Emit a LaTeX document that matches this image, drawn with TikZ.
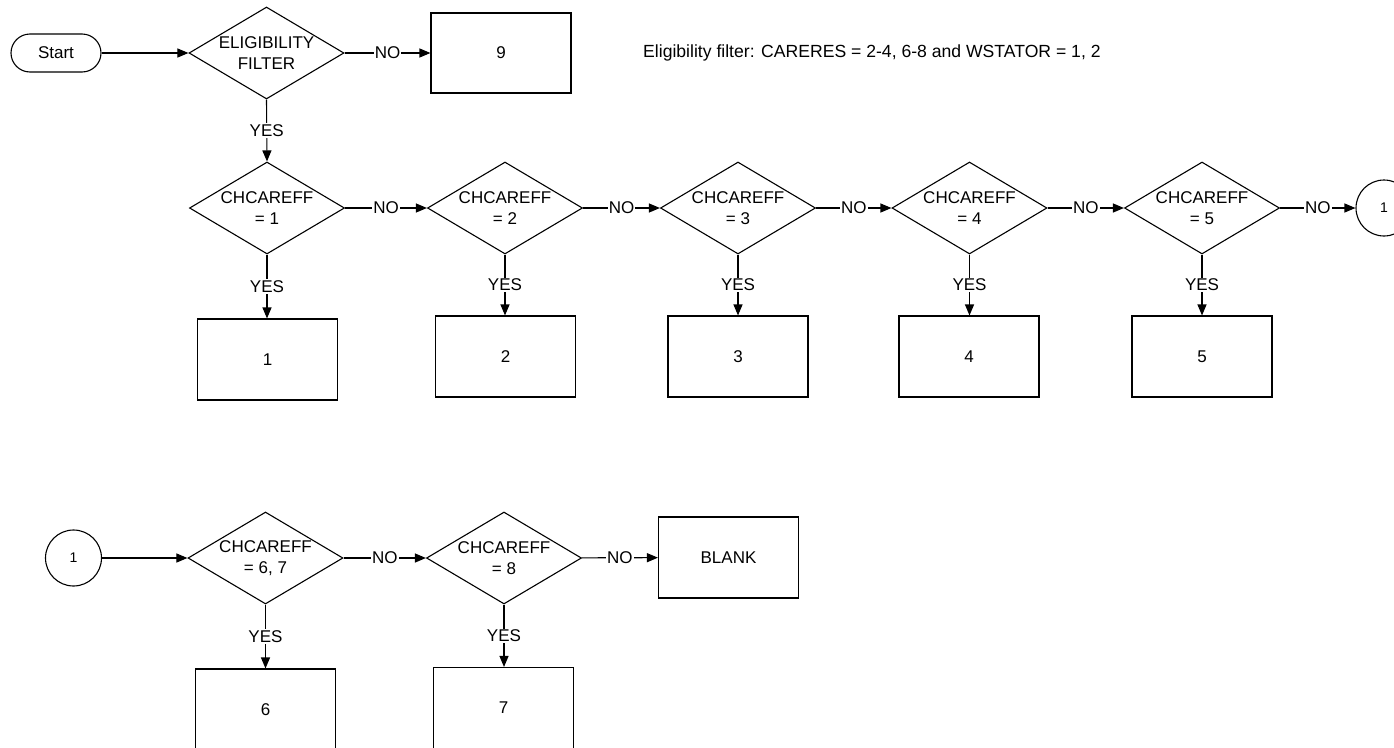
\documentclass[tikz,border=0pt]{standalone}
\usepackage{fontspec}
\setmainfont{Liberation Sans}
\usetikzlibrary{shapes.geometric,arrows.meta}
\tikzset{
  every node/.style={font=\fontsize{17}{21}\selectfont},
  base/.style={draw, line width=1.1pt, inner sep=0pt},
  term/.style={base, rectangle, rounded corners=19pt, minimum width=90pt, minimum height=38pt},
  dia/.style={base, diamond, minimum width=155pt, minimum height=92pt},
  dtxt/.style={align=center, inner sep=0pt},
  box/.style={base, rectangle, minimum width=140pt, minimum height=81pt},
  conn/.style={base, circle, minimum size=56pt, font=\fontsize{14}{16}\selectfont},
  arr/.style={line width=1.1pt, -{Triangle[length=11pt,width=9pt]}},
  lbl/.style={fill=white, inner sep=1pt, midway}
}
\begin{document}
\begin{tikzpicture}[x=1pt, y=-1pt]
\useasboundingbox (0,0) rectangle (1394,747);
\clip (0,0) rectangle (1394,747);
% top row
\node[term] (start) at (56,53) {Start};
\node[dia, label={[dtxt]center:ELIGIBILITY\\FILTER}] (elig) at (266.5,53) {};
\node[box, minimum height=80pt] (b9) at (501,53) {9};
\node[anchor=west, inner sep=0pt, font=\fontsize{17.6}{21}\selectfont] (note) at (643,53) {Eligibility filter: CARERES = 2-4, 6-8 and WSTATOR = 1, 2};
% second row
\node[dia, label={[dtxt]center:CHCAREFF\\= 1}] (d1) at (267,208) {};
\node[dia, label={[dtxt]center:CHCAREFF\\= 2}] (d2) at (505,208) {};
\node[dia, label={[dtxt]center:CHCAREFF\\= 3}] (d3) at (738,208) {};
\node[dia, label={[dtxt]center:CHCAREFF\\= 4}] (d4) at (969.5,208) {};
\node[dia, label={[dtxt]center:CHCAREFF\\= 5}] (d5) at (1202,208) {};
\node[conn] (c1) at (1384,208) {1};
\node[box] (b1) at (267.5,359.5) {1};
\node[box] (b2) at (505.5,356.5) {2};
\node[box] (b3) at (738,356.5) {3};
\node[box] (b4) at (969,356.5) {4};
\node[box] (b5) at (1202,356.5) {5};
% bottom row
\node[conn] (c2) at (73.5,558) {1};
\node[dia, label={[dtxt]center:CHCAREFF\\= 6, 7}] (d6) at (265.5,558) {};
\node[dia, label={[dtxt]center:CHCAREFF\\= 8}] (d7) at (504,558) {};
\node[box] (blank) at (728.5,557.5) {BLANK};
\node[box] (b6) at (265.5,709.5) {6};
\node[box] (b7) at (503.5,708) {7};
% connectors
\draw[arr] (start) -- (elig);
\draw[arr] (elig) -- node[lbl]{NO} (b9);
\draw[arr] (elig.south) -- node[lbl]{YES} (d1.north);
\draw[arr] (d1) -- node[lbl]{NO} (d2);
\draw[arr] (d2) -- node[lbl]{NO} (d3);
\draw[arr] (d3) -- node[lbl]{NO} (d4);
\draw[arr] (d4) -- node[lbl]{NO} (d5);
\draw[arr] (d5) -- node[lbl]{NO} (c1);
\draw[arr] (d1.south) -- node[lbl]{YES} (d1.south |- b1.north);
\draw[arr] (d2.south) -- node[lbl]{YES} (d2.south |- b2.north);
\draw[arr] (d3.south) -- node[lbl]{YES} (d3.south |- b3.north);
\draw[arr] (d4.south) -- node[lbl]{YES} (d4.south |- b4.north);
\draw[arr] (d5.south) -- node[lbl]{YES} (d5.south |- b5.north);
\draw[arr] (c2) -- (d6);
\draw[arr] (d6) -- node[lbl]{NO} (d7);
\draw[arr] (d7) -- node[lbl]{NO} (blank);
\draw[arr] (d6.south) -- node[lbl]{YES} (d6.south |- b6.north);
\draw[arr] (d7.south) -- node[lbl]{YES} (d7.south |- b7.north);
\end{tikzpicture}
\end{document}
